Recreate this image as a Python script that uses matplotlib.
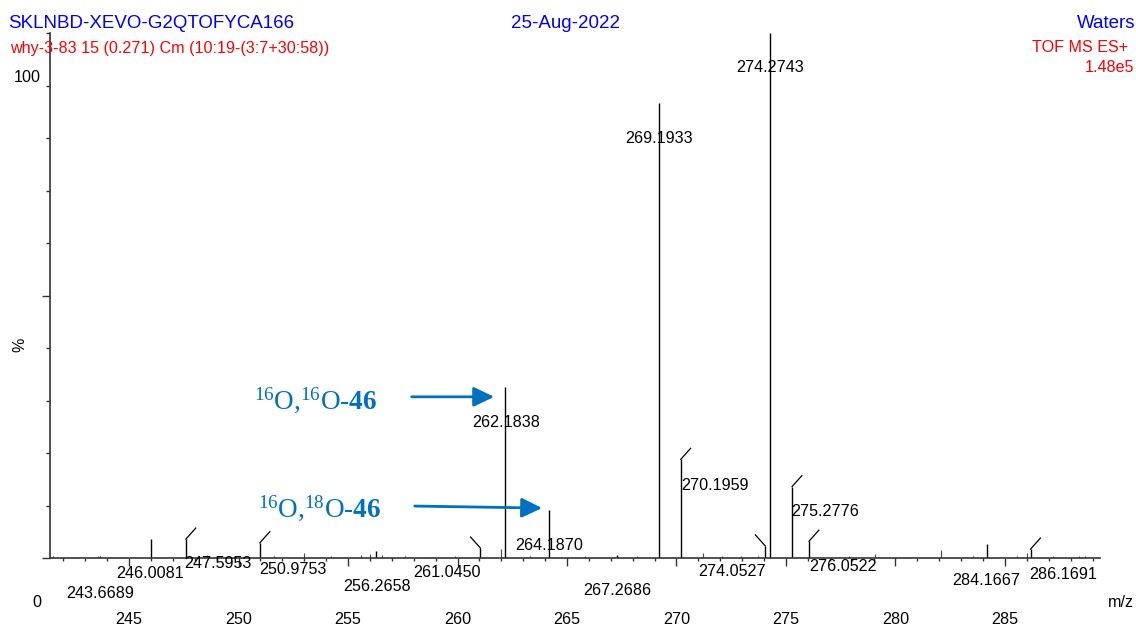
import matplotlib
matplotlib.use("Agg")
import matplotlib.pyplot as plt
import numpy as np

# labelled peaks: m/z, relative intensity (%)
peak_mz = [243.6689, 246.0081, 247.5953, 250.9753, 256.2658, 261.0450,
           262.1838, 264.1870, 267.2686, 269.1933, 270.1959, 274.0527,
           274.2743, 275.2776, 276.0522, 284.1667, 286.1691]
peak_int = [0.3, 3.6, 3.6, 2.9, 1.4, 1.9,
            32.6, 9.1, 0.5, 86.7, 18.8, 2.3,
            100.0, 13.6, 3.2, 2.6, 1.7]
# kink direction of the label leader (0 = none, 1 = right, -1 = left)
peak_kink = [0, 0, 1, 1, 0, -1, 0, 0, 0, 0, 1, -1, 0, 1, 1, 0, 1]
# label anchor (m/z, %) as MassLynx placed them
label_x = [243.67, 245.96, 249.08, 252.47, 256.31, 259.54,
           262.21, 264.20, 267.28, 269.20, 271.74, 272.55,
           274.28, 276.81, 277.62, 284.16, 287.68]
label_y = [-6.7, -2.9, -1.0, -2.1, -5.5, -2.8,
           25.8, 2.3, -6.2, 79.9, 13.8, -2.6,
           93.4, 8.8, -1.65, -4.2, -3.2]

# small unlabelled peaks / noise
noise_mz = [241.53, 242.5, 243.58, 244.6, 248.55, 249.4, 251.6, 253.0,
            254.2, 255.6, 256.0, 256.54, 257.6, 258.7, 259.9, 262.0,
            263.3, 265.8, 268.2, 271.2, 272.1, 272.96, 273.7, 277.9,
            279.06, 280.5, 282.08, 283.55, 285.53, 285.99, 287.2, 288.4, 288.65]
noise_int = [0.3, 0.2, 0.3, 0.2, 0.5, 0.2, 0.3, 1.0,
             0.3, 0.5, 0.8, 0.6, 0.3, 0.2, 0.3, 1.8,
             0.3, 0.3, 0.3, 1.0, 0.3, 0.4, 0.3, 0.3,
             0.7, 0.2, 1.5, 0.3, 0.4, 1.0, 0.3, 0.3, 0.4]

x_major = [245, 250, 255, 260, 265, 270, 275, 280, 285]

annot_text = [r'$^{16}$O,$^{16}$O-$\mathbf{46}$', r'$^{16}$O,$^{18}$O-$\mathbf{46}$']
annot_text_xy = [(256.32, 30.1), (256.5, 9.5)]
annot_tail = [(257.78, 30.7), (257.92, 9.9)]
annot_tip = [(261.8, 30.7), (263.99, 9.5)]

plt.rcParams['font.family'] = ['Liberation Sans', 'DejaVu Sans']
plt.rcParams['mathtext.fontset'] = 'custom'
plt.rcParams['mathtext.rm'] = 'Liberation Serif'
plt.rcParams['mathtext.it'] = 'Liberation Serif:italic'
plt.rcParams['mathtext.bf'] = 'Liberation Serif:bold'

fs = 11.6

fig = plt.figure(figsize=(11.36, 6.26), dpi=100)
ax = fig.add_axes([50/1136, 68/626, 1050/1136, 525/626])

ax.set_xlim(241.39, 289.34)
ax.set_ylim(0, 100)

# peaks
ax.vlines(noise_mz, 0, noise_int, color='#444444', lw=0.8)
ax.vlines(peak_mz, 0, peak_int, color='black', lw=1.0)
for mz, h, k in zip(peak_mz, peak_int, peak_kink):
    if k != 0:
        ax.plot([mz, mz + k*0.45], [h, h + 2.1], color='black', lw=0.9)

for mz, lx, ly in zip(peak_mz, label_x, label_y):
    ax.text(lx, ly, f'{mz:.4f}', ha='center', va='center', fontsize=fs,
            color='black', clip_on=False)

# axes styling
for s in ['top', 'right']:
    ax.spines[s].set_visible(False)
ax.spines['left'].set_color('#333333')
ax.spines['bottom'].set_color('#333333')
ax.spines['left'].set_linewidth(1.2)
ax.spines['bottom'].set_linewidth(1.2)

ax.set_xticks(x_major)
ax.set_xticklabels([str(v) for v in x_major], fontsize=fs)
ax.set_xticks(np.arange(242, 290, 1), minor=True)
ax.tick_params(axis='x', which='major', length=6, width=1, color='#333333', pad=33)
ax.tick_params(axis='x', which='minor', length=2.5, width=1, color='#333333')

ax.set_yticks([0, 50])
ax.set_yticklabels([])
ax.set_yticks(np.arange(0, 101, 10), minor=True)
ax.tick_params(axis='y', which='major', length=6, width=1, color='#333333')
ax.tick_params(axis='y', which='minor', length=3, width=1, color='#333333')

ax.text(-0.0219, 0.916, '100', transform=ax.transAxes, ha='center', va='center', fontsize=fs)
ax.text(-0.0124, -0.0857, '0', transform=ax.transAxes, ha='center', va='center', fontsize=fs)
ax.text(-0.0286, 0.406, '%', transform=ax.transAxes, ha='center', va='center',
        rotation=90, fontsize=fs)
ax.text(1.02, -0.0857, 'm/z', transform=ax.transAxes, ha='center', va='center', fontsize=fs)

# arrows and isotope labels
blue = '#0070C0'
for t, txy, tail, tip in zip(annot_text, annot_text_xy, annot_tail, annot_tip):
    ax.text(txy[0], txy[1], t, ha='right', va='center', fontsize=19.5, color=blue,
            family='Liberation Serif')
    ax.annotate('', xy=tip, xytext=tail,
                arrowprops=dict(arrowstyle='-|>,head_length=1.25,head_width=0.6',
                                color=blue, lw=2))

# header
fig.text(8/1136, 1 - 23/626, 'SKLNBD-XEVO-G2QTOFYCA166', ha='left', va='center',
         fontsize=13.5, color='#0000FF')
fig.text(565/1136, 1 - 23/626, '25-Aug-2022', ha='center', va='center',
         fontsize=13.5, color='#0000FF')
fig.text(1135/1136, 1 - 23/626, 'Waters', ha='right', va='center',
         fontsize=13.5, color='#0000FF')
fig.text(10/1136, 1 - 48/626, 'why-3-83 15 (0.271) Cm (10:19-(3:7+30:58))', ha='left',
         va='center', fontsize=fs, color='#FF0000')
fig.text(1128/1136, 1 - 48/626, 'TOF MS ES+', ha='right', va='center',
         fontsize=fs, color='#FF0000')
fig.text(1134/1136, 1 - 68/626, '1.48e5', ha='right', va='center',
         fontsize=fs, color='#FF0000')

plt.savefig('out.png', dpi=100)
